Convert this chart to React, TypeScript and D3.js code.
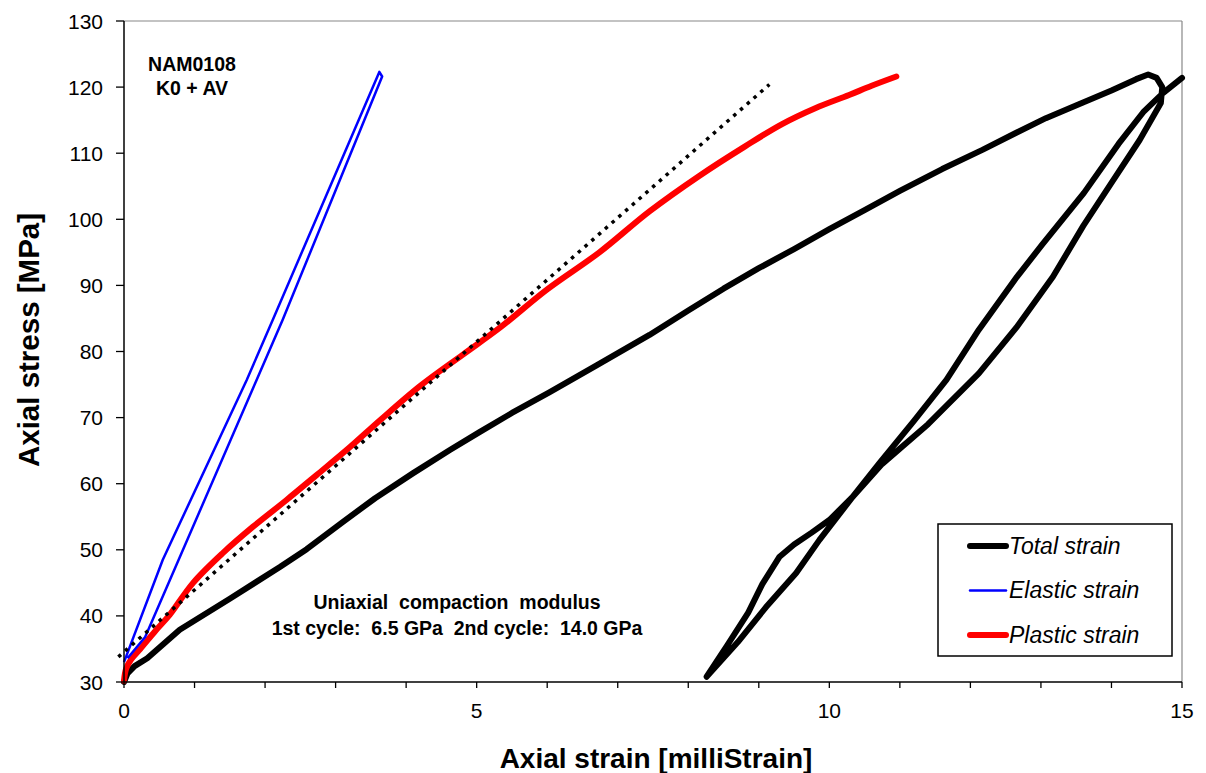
import React from 'react';
import * as d3 from 'd3';

// axial strain [milliStrain], axial stress [MPa]
const totalStrain: [number, number][] = [
  [0, 30], [0.05, 31.3], [0.15, 32.4], [0.33, 33.6], [0.79, 37.9], [1.5, 42.6],
  [2.21, 47.4], [2.59, 50.1], [3.1, 54.2], [3.56, 57.8], [4.1, 61.6], [4.62, 65.1],
  [5.04, 67.8], [5.5, 70.7], [6.03, 73.8], [6.7, 77.9], [7.45, 82.5], [8.0, 86.2],
  [8.5, 89.5], [9.0, 92.6], [9.5, 95.5], [10, 98.5], [10.5, 101.4], [11, 104.3],
  [11.6, 107.6], [12.17, 110.5], [12.65, 113.1], [13.07, 115.3], [13.58, 117.6],
  [14.0, 119.5], [14.35, 121.2], [14.52, 121.9], [14.64, 121.4], [14.72, 120],
  // unloading
  [14.7, 117.6], [14.4, 112], [14.0, 105.5], [13.6, 99], [13.17, 91.3],
  [12.65, 83.6], [12.12, 76.7], [11.4, 69], [10.75, 63], [10.33, 58],
  [9.86, 51.5], [9.53, 46.5], [9.1, 41.3], [8.7, 36], [8.26, 30.8],
  // reloading
  [8.55, 35.5], [8.85, 40.5], [9.05, 44.8], [9.29, 48.9], [9.5, 50.8], [9.75, 52.6],
  [10, 54.5], [10.33, 58], [10.71, 63.1], [11.2, 69.5], [11.66, 75.7],
  [12.12, 83.3], [12.66, 91.3], [13.02, 96.2], [13.61, 104], [14.1, 111.4],
  [14.45, 116.2], [14.73, 119.1], [15, 121.4],
];

const elasticStrain: [number, number][] = [
  [0.0, 33.0], [0.55, 48.5], [1.74, 75.7], [2.11, 84.8], [3.62, 122.3],
  [3.66, 121.6], [2.25, 84.8], [1.88, 75.7], [0.3, 36.8], [0.05, 33.6],
];

const plasticStrain: [number, number][] = [
  [0, 30.2], [0.03, 32], [0.1, 33.4], [0.23, 35], [0.45, 37.8], [0.65, 40.2],
  [0.98, 45], [1.4, 49.5], [1.83, 53.5], [2.3, 57.5], [2.73, 61.3], [3.2, 65.5],
  [3.63, 69.6], [4.2, 74.8], [4.8, 79.5], [5.33, 83.6], [6.0, 89.4], [6.74, 95],
  [7.45, 101.2], [8.16, 106.6], [8.8, 111], [9.33, 114.4], [9.8, 116.8],
  [10.28, 118.8], [10.6, 120.2], [10.95, 121.6],
];

const modulusFit: [number, number][] = [[-0.08, 33.8], [9.15, 120.4]];

const xTicks = d3.range(0, 16, 1);
const xLabels = [0, 5, 10, 15];
const yTicks = d3.range(30, 131, 10);

const legendItems = [
  { label: 'Total strain', color: '#000000', width: 6 },
  { label: 'Elastic strain', color: '#0000ff', width: 2.5 },
  { label: 'Plastic strain', color: '#ff0000', width: 6 },
];

const font = '"Liberation Sans", Arial, sans-serif';

export default function App() {
  const width = 1206;
  const height = 773;
  const x = d3.scaleLinear().domain([0, 15]).range([124, 1182]);
  const y = d3.scaleLinear().domain([30, 130]).range([682, 21]);

  const straight = d3.line<[number, number]>().x(d => x(d[0])).y(d => y(d[1]));
  const smooth = d3.line<[number, number]>()
    .x(d => x(d[0]))
    .y(d => y(d[1]))
    .curve(d3.curveCatmullRom.alpha(0.5));

  return (
    <svg width={width} height={height} style={{ position: 'absolute', left: 0, top: 0, background: '#fff' }}
      fontFamily={font}>
      {/* frame */}
      <line x1={x(0)} x2={x(15)} y1={y(130)} y2={y(130)} stroke="#888" strokeWidth={1.2} />
      <line x1={x(15)} x2={x(15)} y1={y(130)} y2={y(30)} stroke="#888" strokeWidth={1.2} />

      {/* curves */}
      <path d={straight(totalStrain) || ''} fill="none" stroke="#000" strokeWidth={6}
        strokeLinejoin="round" strokeLinecap="round" />
      <path d={smooth(plasticStrain) || ''} fill="none" stroke="#ff0000" strokeWidth={6}
        strokeLinejoin="round" strokeLinecap="round" />
      <path d={straight(elasticStrain) || ''} fill="none" stroke="#0000ff" strokeWidth={2.5}
        strokeLinejoin="round" />
      <path d={straight(modulusFit) || ''} fill="none" stroke="#000" strokeWidth={3.5}
        strokeDasharray="3.5,5.5" />

      {/* y axis */}
      <line x1={x(0)} x2={x(0)} y1={y(130)} y2={y(30)} stroke="#000" strokeWidth={1.5} />
      {yTicks.map(t => (
        <g key={t}>
          <line x1={x(0) - 8} x2={x(0)} y1={y(t)} y2={y(t)} stroke="#000" strokeWidth={1.3} />
          <text x={103} y={y(t)} dy="0.36em" textAnchor="end" fontSize={21}>{t}</text>
        </g>
      ))}

      {/* x axis */}
      <line x1={x(0)} x2={x(15)} y1={y(30)} y2={y(30)} stroke="#000" strokeWidth={1.5} />
      {xTicks.map(t => (
        <line key={t} x1={x(t)} x2={x(t)} y1={y(30)} y2={y(30) + 6} stroke="#000" strokeWidth={1.3} />
      ))}
      {xLabels.map(t => (
        <text key={t} x={x(t)} y={718} textAnchor="middle" fontSize={21}>{t}</text>
      ))}

      {/* axis titles */}
      <text x={656} y={768} textAnchor="middle" fontSize={28} fontWeight="bold">
        Axial strain [milliStrain]
      </text>
      <text transform="translate(39,340) rotate(-90)" textAnchor="middle" fontSize={29.5} fontWeight="bold">
        Axial stress [MPa]
      </text>

      {/* annotations */}
      <text x={192} y={71} textAnchor="middle" fontSize={19.5} fontWeight="bold">NAM0108</text>
      <text x={192} y={95} textAnchor="middle" fontSize={19.5} fontWeight="bold">K0 + AV</text>
      <text x={457} y={609} textAnchor="middle" fontSize={19.5} fontWeight="bold" style={{ whiteSpace: 'pre' }}>
        {'Uniaxial  compaction  modulus'}
      </text>
      <text x={457} y={635} textAnchor="middle" fontSize={19.5} fontWeight="bold" style={{ whiteSpace: 'pre' }}>
        {'1st cycle:  6.5 GPa  2nd cycle:  14.0 GPa'}
      </text>

      {/* legend */}
      <rect x={938} y={524} width={234} height={132} fill="#fff" stroke="#000" strokeWidth={1.5} />
      {legendItems.map((d, i) => (
        <g key={d.label} transform={`translate(0,${546 + i * 44.5})`}>
          <line x1={970} x2={1006} y1={0} y2={0} stroke={d.color} strokeWidth={d.width} strokeLinecap="round" />
          <text x={1009} y={7.5} fontSize={23} fontStyle="italic">{d.label}</text>
        </g>
      ))}
    </svg>
  );
}
